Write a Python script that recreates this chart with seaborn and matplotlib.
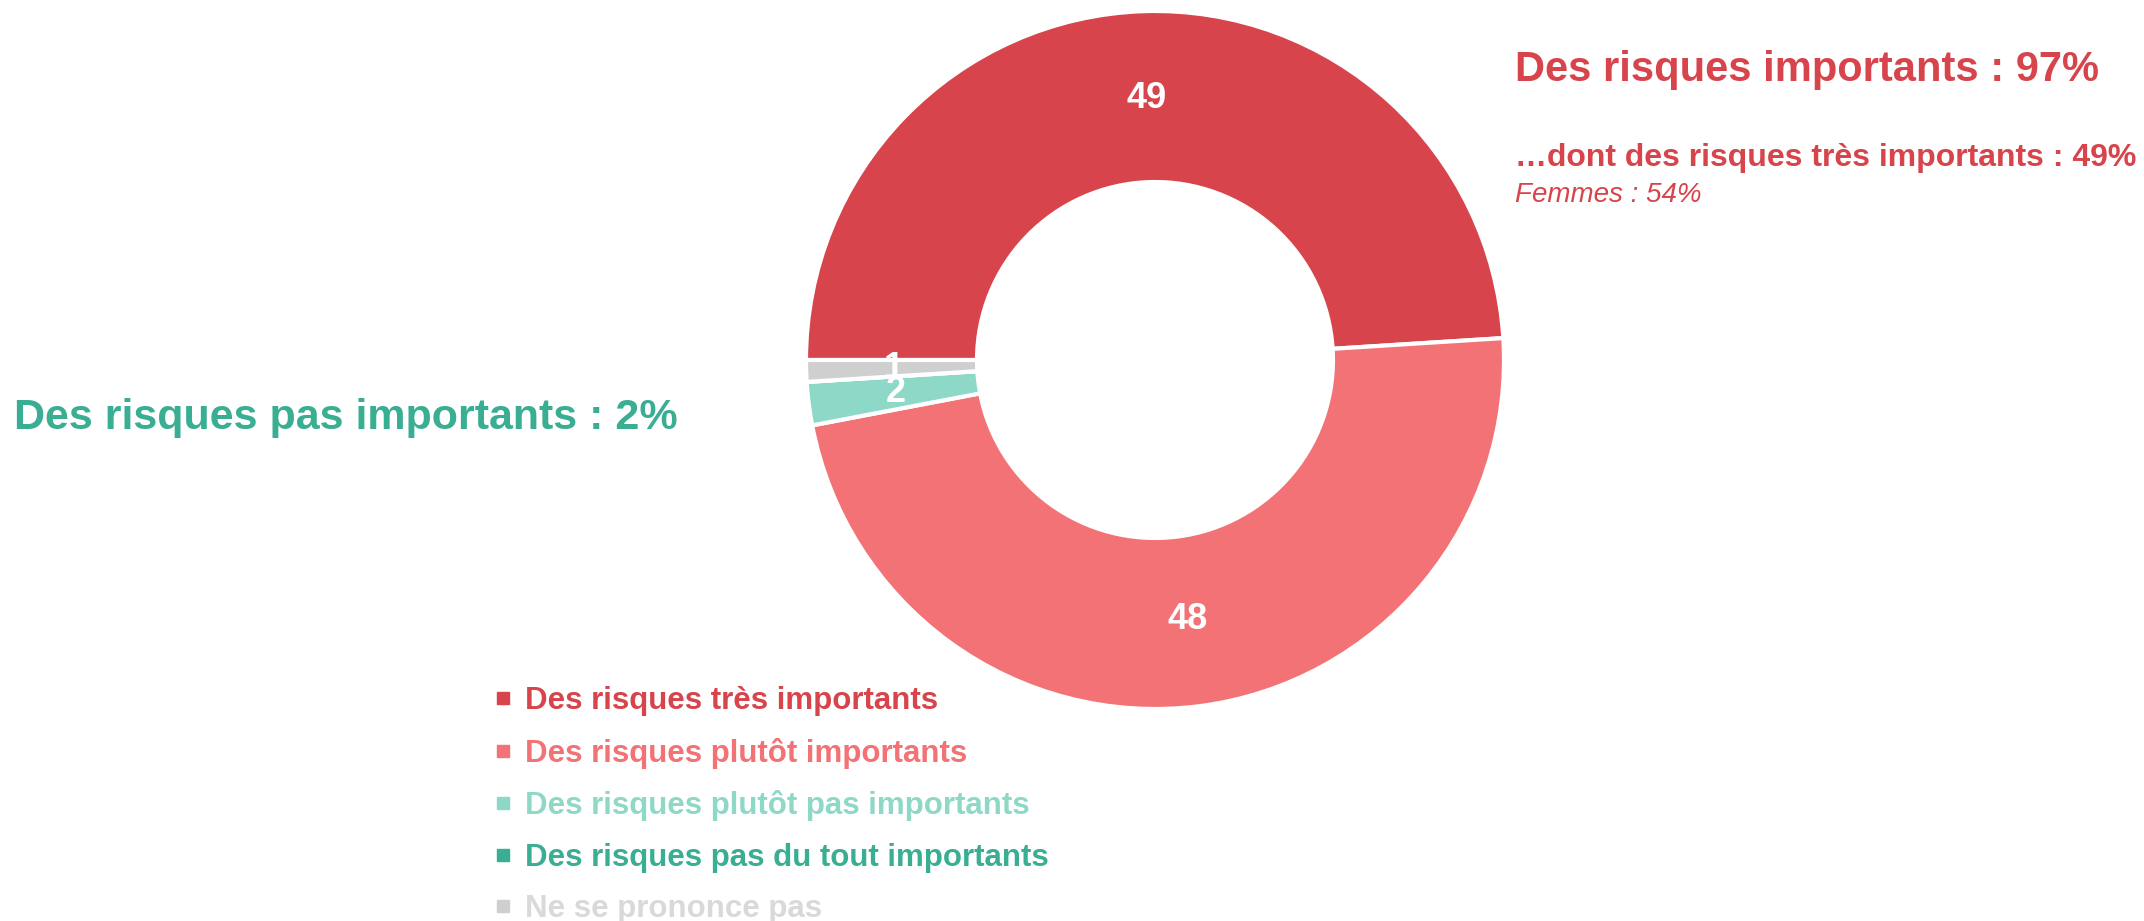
import matplotlib
matplotlib.use("Agg")
import matplotlib.pyplot as plt
from matplotlib.lines import Line2D
import seaborn as sns

# Data
categories = [
    "Des risques très importants",
    "Des risques plutôt importants",
    "Des risques plutôt pas importants",
    "Des risques pas du tout importants",
    "Ne se prononce pas",
]
values = [49, 48, 2, 0, 1]
hex_colors = ["#D7444B", "#F27275", "#8ED8C8", "#3AAE92", "#D0CFCF"]
legend_text_colors = ["#D7444B", "#F27275", "#8ED8C8", "#3AAE92", "#D9D9D9"]

title_main = "Des risques importants : 97%"
title_sub = "…dont des risques très importants : 49%"
title_femmes = "Femmes : 54%"
title_left = "Des risques pas importants : 2%"

sns.set_theme(style="white")
plt.rcParams["font.family"] = ["Liberation Sans", "DejaVu Sans"]
palette = sns.color_palette(hex_colors)

W, H = 2144, 921
fig = plt.figure(figsize=(W / 100, H / 100), dpi=100)

# donut axes: center (1155, 360), radius 349 px
cx, cy, r = 1155, 360, 349
ax = fig.add_axes([(cx - r) / W, (H - cy - r) / H, 2 * r / W, 2 * r / H])


def fmt(p):
    return f"{round(p)}" if p > 0.5 else ""


wedges, texts, autotexts = ax.pie(
    values,
    colors=palette,
    startangle=180,
    counterclock=False,
    radius=1,
    autopct=fmt,
    pctdistance=0.75,
    wedgeprops=dict(width=0.49, edgecolor="white", linewidth=3),
    textprops=dict(color="white", fontsize=26, fontweight="bold"),
)
ax.set_xlim(-1, 1)
ax.set_ylim(-1, 1)
ax.set_aspect("equal")
ax.axis("off")

# annotations
fig.text(1515 / W, 1 - 70 / H, title_main, color="#D7444B", fontsize=30,
         fontweight="bold", va="center", ha="left")
fig.text(1515 / W, 1 - 158 / H, title_sub, color="#D7444B", fontsize=23,
         fontweight="bold", va="center", ha="left")
fig.text(1515 / W, 1 - 195 / H, title_femmes, color="#D7444B", fontsize=20,
         fontstyle="italic", va="center", ha="left")
fig.text(14 / W, 1 - 418 / H, title_left, color="#3AAE92", fontsize=31,
         fontweight="bold", va="center", ha="left")

# legend
handles = [
    Line2D([0], [0], marker="s", linestyle="", markersize=9,
           markerfacecolor=c, markeredgecolor=c, label=lab)
    for c, lab in zip(hex_colors, categories)
]
leg = fig.legend(
    handles=handles,
    loc="upper left",
    bbox_to_anchor=(495 / W, 1 - 686 / H),
    frameon=False,
    handlelength=0.5,
    handletextpad=0.45,
    labelspacing=0.69,
    borderpad=0,
    borderaxespad=0,
    prop=dict(weight="bold", size=22.5),
)
for t, c in zip(leg.get_texts(), legend_text_colors):
    t.set_color(c)

fig.savefig("out.png", dpi=100)
